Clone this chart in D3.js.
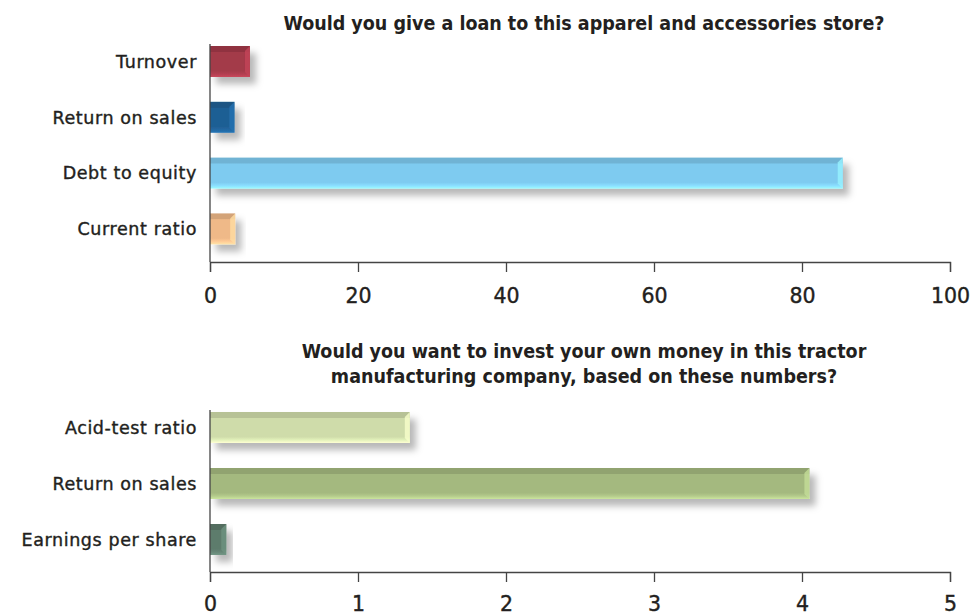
<!DOCTYPE html>
<html><head><meta charset="utf-8">
<script src="https://cdn.jsdelivr.net/npm/d3@7"></script>
<style>
body{margin:0;background:#fff;}
text{font-family:"DejaVu Sans",sans-serif;fill:#231f20;}
</style></head>
<body><svg id="c" width="975" height="616"></svg>
<script>
// Chart 1
const cats1 = ["Turnover","Return on sales","Debt to equity","Current ratio"];
const vals1 = [5.4, 3.3, 85.5, 3.4];
const cols1 = ["#a33a4a","#1f5f94","#7ecbf0","#efb988"];
const ticks1 = [0,20,40,60,80,100];
const title1 = ["Would you give a loan to this apparel and accessories store?"];
// Chart 2
const cats2 = ["Acid-test ratio","Return on sales","Earnings per share"];
const vals2 = [1.35, 4.05, 0.11];
const cols2 = ["#cfdcaa","#a4b97f","#5d7b6c"];
const ticks2 = [0,1,2,3,4,5];
const title2 = ["Would you want to invest your own money in this tractor","manufacturing company, based on these numbers?"];

const svg = d3.select("#c");
const defs = svg.append("defs");
const f = defs.append("filter").attr("id","sh").attr("x","-20%").attr("y","-50%").attr("width","160%").attr("height","250%");
f.append("feDropShadow").attr("dx",6).attr("dy",7).attr("stdDeviation",3.5).attr("flood-color","#000").attr("flood-opacity",0.28);

function grad(id,c){
  const base=d3.color(c), dark=base.darker(0.35), light=base.brighter(0.6);
  const g=defs.append("linearGradient").attr("id",id).attr("x1",0).attr("x2",0).attr("y1",0).attr("y2",1);
  [[0,dark],[0.18,dark],[0.2,base],[0.8,base],[0.9,base.brighter(0.25)],[1,light]].forEach(([o,col])=>g.append("stop").attr("offset",o).attr("stop-color",col));
}

function chart(cats,vals,cols,ticks,title,top,step,axY,titleY,pad,pfx){
  const x=d3.scaleLinear().domain([ticks[0],ticks[ticks.length-1]]).range([210,950]);
  const y=d3.scaleBand().domain(cats).range([top,top+step*cats.length]);
  const bh=31;
  const g=svg.append("g");
  cats.forEach((c,i)=>{
    grad(pfx+i,cols[i]);
    const yc=y(c)+y.bandwidth()/2;
    const y0=yc-bh/2, w=x(vals[i])-x(0);
    const bg=g.append("g").attr("filter","url(#sh)");
    bg.append("rect").attr("x",x(0)).attr("y",y0).attr("width",w).attr("height",bh).attr("fill",`url(#${pfx+i})`);
    const e=Math.min(5,w/3);
    bg.append("path").attr("d",`M${x(vals[i])-e},${y0+e}L${x(vals[i])},${y0}L${x(vals[i])},${y0+bh}L${x(vals[i])-e},${y0+bh-e}Z`)
      .attr("fill",d3.color(cols[i]).brighter(0.5)).attr("opacity",0.8);
    g.append("text").attr("x",197).attr("y",yc).attr("dy","0.36em").attr("text-anchor","end")
      .style("font-size","17.5px").style("letter-spacing","0.6px").attr("stroke","#231f20").attr("stroke-width",0.4).text(c);
  });
  g.append("line").attr("x1",x(0)).attr("x2",x(0)).attr("y1",y(cats[0])+y.bandwidth()/2-bh/2-2).attr("y2",axY).attr("stroke","#444").attr("stroke-width",1.3);
  const ax=g.append("g").attr("transform",`translate(0,${axY})`).call(d3.axisBottom(x).tickValues(ticks).tickSize(10).tickPadding(pad).tickFormat(d3.format("d")));
  ax.select(".domain").attr("stroke","#444").attr("stroke-width",1.3);
  ax.selectAll(".tick line").attr("stroke","#444").attr("stroke-width",1.3);
  ax.selectAll(".tick text").style("font-size","20.5px").attr("fill","#231f20").attr("stroke","#231f20").attr("stroke-width",0.4).style("font-family","'DejaVu Sans',sans-serif");
  title.forEach((t,k)=>g.append("text").attr("x",584).attr("y",titleY+k*25).attr("text-anchor","middle")
    .style("font-family","'DejaVu Sans Condensed',sans-serif")
    .style("font-size","19.5px").style("font-weight","bold").text(t));
}
chart(cats1,vals1,cols1,ticks1,title1,33.6,55.8,262,30,16,"ga");
chart(cats2,vals2,cols2,ticks2,title2,399.5,56,572,358,14,"gb");
</script></body></html>
